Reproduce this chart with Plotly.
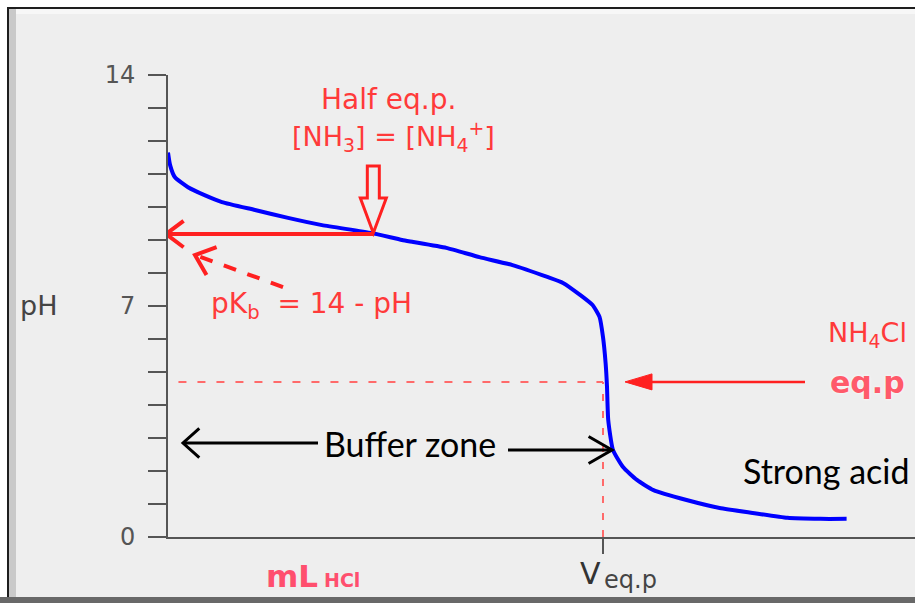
import math
import plotly.graph_objects as go

# Titration of aqueous NH3 with HCl: volume of acid added (mL) vs pH
volume_ml = [0.0, 0.12, 0.4, 1.15, 2.1, 3.1, 5.0, 6.9, 8.85, 11.7, 13.45, 14.1,
             16.0, 17.9, 19.8, 21.8, 22.7, 23.7, 24.4, 24.8, 25.0, 25.15, 25.23,
             25.3, 25.57, 26.15, 26.95, 27.9, 29.8, 31.7, 33.6, 35.6, 37.5, 39.0]
ph_values = [11.65, 11.27, 10.9, 10.6, 10.36, 10.15, 9.91, 9.67, 9.45, 9.21, 9.0, 8.94,
             8.76, 8.48, 8.24, 7.88, 7.70, 7.33, 7.03, 6.67, 6.06, 5.27, 4.55,
             3.55, 2.64, 2.12, 1.73, 1.42, 1.12, 0.88, 0.73, 0.58, 0.55, 0.55]

# Key points of the titration
V_EQ = 25.0        # equivalence volume
V_HALF = 11.8      # half-equivalence volume
PH_HALF = 9.18     # pH at half-equivalence
PH_EQ = 4.7        # pH at equivalence (NH4Cl solution)

y_tick_vals = list(range(0, 15))
y_tick_text = ["0" if v == 0 else "7" if v == 7 else "14" if v == 14 else "" for v in y_tick_vals]

W, H = 915, 603
X_LEFT_PX = 168
Y_ZERO_PX = 537
Y_TOP_PX = 75
PX_PER_ML = 17.4
X_MAX = (W - X_LEFT_PX) / PX_PER_ML

RED = "#ff2020"
RED_TXT = "#ff3a3a"
RED_DOT = "#ff6a6a"
AXIS = "#555555"


def P(xp, yp):
    """pixel position -> paper fraction"""
    return xp / W, 1 - yp / H


fig = go.Figure()
fig.add_trace(go.Scatter(
    x=volume_ml, y=ph_values, mode="lines",
    line=dict(color="#0000ff", width=4, shape="spline", smoothing=0.5),
    hoverinfo="skip", showlegend=False,
))

shapes = []

# --- frame decoration -------------------------------------------------
def prect(x0, y0, x1, y1, color):
    a, b = P(x0, y0)
    c, d = P(x1, y1)
    shapes.append(dict(type="rect", xref="paper", yref="paper", x0=a, y0=b, x1=c, y1=d,
                       fillcolor=color, line=dict(width=0), layer="below"))

prect(0, 0, W, 7, "#ffffff")
prect(0, 0, 7, H, "#ffffff")
prect(9, 9, W, 14, "#f7f7f7")
prect(9, 9, 16, 597, "#c9c9c9")
prect(7, 7, W, 9, "#1e1e1e")
prect(7, 7, 9, 597, "#1e1e1e")
prect(0, 597, W, H, "#686868")


def pix_path(xa, ya, path, color, width, dash="solid", fill=None, layer="above"):
    shapes.append(dict(type="path", xref="x", yref="y", xsizemode="pixel", ysizemode="pixel",
                       xanchor=xa, yanchor=ya, path=path,
                       line=dict(color=color, width=width, dash=dash),
                       fillcolor=fill if fill else "rgba(0,0,0,0)", layer=layer))


def chevron(tip, back, length, spread_deg=40):
    """open arrow head at tip, pointing away from back (pixel offsets, y up)"""
    dx, dy = back[0] - tip[0], back[1] - tip[1]
    ang = math.atan2(dy, dx)
    pts = []
    for s in (+1, -1):
        a = ang + s * math.radians(spread_deg)
        pts.append((tip[0] + length * math.cos(a), tip[1] + length * math.sin(a)))
    return "M {:.1f},{:.1f} L {:.1f},{:.1f} L {:.1f},{:.1f}".format(
        pts[0][0], pts[0][1], tip[0], tip[1], pts[1][0], pts[1][1])


# dotted guides at the equivalence point
shapes.append(dict(type="line", xref="x", yref="y", x0=0.6, x1=V_EQ, y0=PH_EQ, y1=PH_EQ,
                   line=dict(color=RED_DOT, width=2, dash="8px,11px"), layer="below"))
shapes.append(dict(type="line", xref="x", yref="y", x0=V_EQ, x1=V_EQ, y0=0, y1=PH_EQ,
                   line=dict(color=RED_DOT, width=2, dash="7px,10px"), layer="below"))

# half-equivalence: horizontal arrow to the pH axis
shapes.append(dict(type="line", xref="x", yref="y", x0=0, x1=V_HALF, y0=PH_HALF, y1=PH_HALF,
                   line=dict(color=RED, width=4)))
pix_path(0, PH_HALF, chevron((-2, 0), (20, 0), 22, 37), RED, 4)

# hollow block arrow pointing down at the half-equivalence point
pix_path(V_HALF, PH_HALF,
         "M -6,68 L 6,68 L 6,36 L 13,36 L 0,1 L -13,36 L -6,36 Z", RED, 3)

# dashed arrow from the pKb label
pix_path(0, PH_HALF, "M 115,-53 L 30,-22", RED, 4, dash="13px,12px")
pix_path(0, PH_HALF, chevron((27, -21), (115, -53), 23, 40), RED, 4)

# arrow to the equivalence point
pix_path(V_EQ, PH_EQ, "M 202,0 L 45,0", RED, 2.5)
pix_path(V_EQ, PH_EQ, "M 22,0 L 49,8 L 49,-8 Z", RED, 1, fill=RED)

# buffer zone arrows
pix_path(0, 0, "M 150,94 L 17,94", "#000000", 3)
pix_path(0, 0, chevron((15, 94), (150, 94), 22, 42), "#000000", 3)
pix_path(V_EQ, 0, "M -95,87 L 7,87", "#000000", 3)
pix_path(V_EQ, 0, chevron((9, 87), (-95, 87), 27, 30), "#000000", 3)

annotations = []


def label(xp, yp, text, size, color, family="DejaVu Sans", anchor="center", **font_extra):
    x, y = P(xp, yp)
    annotations.append(dict(xref="paper", yref="paper", x=x, y=y, text=text, showarrow=False,
                            xanchor=anchor, yanchor="middle",
                            font=dict(family=family, size=size, color=color, **font_extra)))


label(388, 99, "Half eq.p.", 28, RED_TXT)
label(393, 137, "[NH<sub>3</sub>] = [NH<sub>4</sub><sup>+</sup>]", 27, RED_TXT)
label(311, 305, "pK<sub>b</sub>&nbsp; = 14 - pH", 28, RED_TXT)
label(867, 334, "NH<sub>4</sub>Cl", 27, RED_TXT)
label(867, 382, "<b>eq.p</b>", 30, "#ff5a6a", shadow="0px 0px 3px #ffffff")
label(410, 443, "Buffer zone", 34, "#000000", family="Lato")
label(741, 470, "Strong acid", 34, "#000000", family="Lato", anchor="left")
label(38, 305, "pH", 27, "#444444")
label(590, 573, "V", 30, "#333333")
label(602, 580, "eq.p", 24, "#444444", anchor="left")
label(264, 576, "<b>mL</b>", 31, "#ff4f6e", anchor="left")
label(322, 580, "<b>HCl</b>", 19, "#ff4f6e", anchor="left")

fig.update_layout(
    width=W, height=H, autosize=False,
    margin=dict(l=0, r=0, t=0, b=0, pad=0, autoexpand=False),
    paper_bgcolor="#eeeeee", plot_bgcolor="rgba(0,0,0,0)",
    shapes=shapes, annotations=annotations,
    xaxis=dict(domain=[X_LEFT_PX / W, 1], range=[0, X_MAX], showgrid=False, zeroline=False,
               showline=True, linecolor=AXIS, linewidth=2, automargin=False,
               tickvals=[V_EQ], ticktext=[""], ticks="outside", ticklen=15, tickwidth=2,
               tickcolor=AXIS, fixedrange=True),
    yaxis=dict(domain=[(H - Y_ZERO_PX) / H, (H - Y_TOP_PX) / H], range=[0, 14],
               showgrid=False, zeroline=False, showline=True, linecolor=AXIS, linewidth=2,
               automargin=False,
               tickvals=y_tick_vals, ticktext=y_tick_text, ticks="outside", ticklen=18,
               tickwidth=2, tickcolor=AXIS, ticklabelstandoff=8,
               tickfont=dict(family="DejaVu Sans", size=24, color=AXIS), fixedrange=True),
)

fig.write_html("out.html")
